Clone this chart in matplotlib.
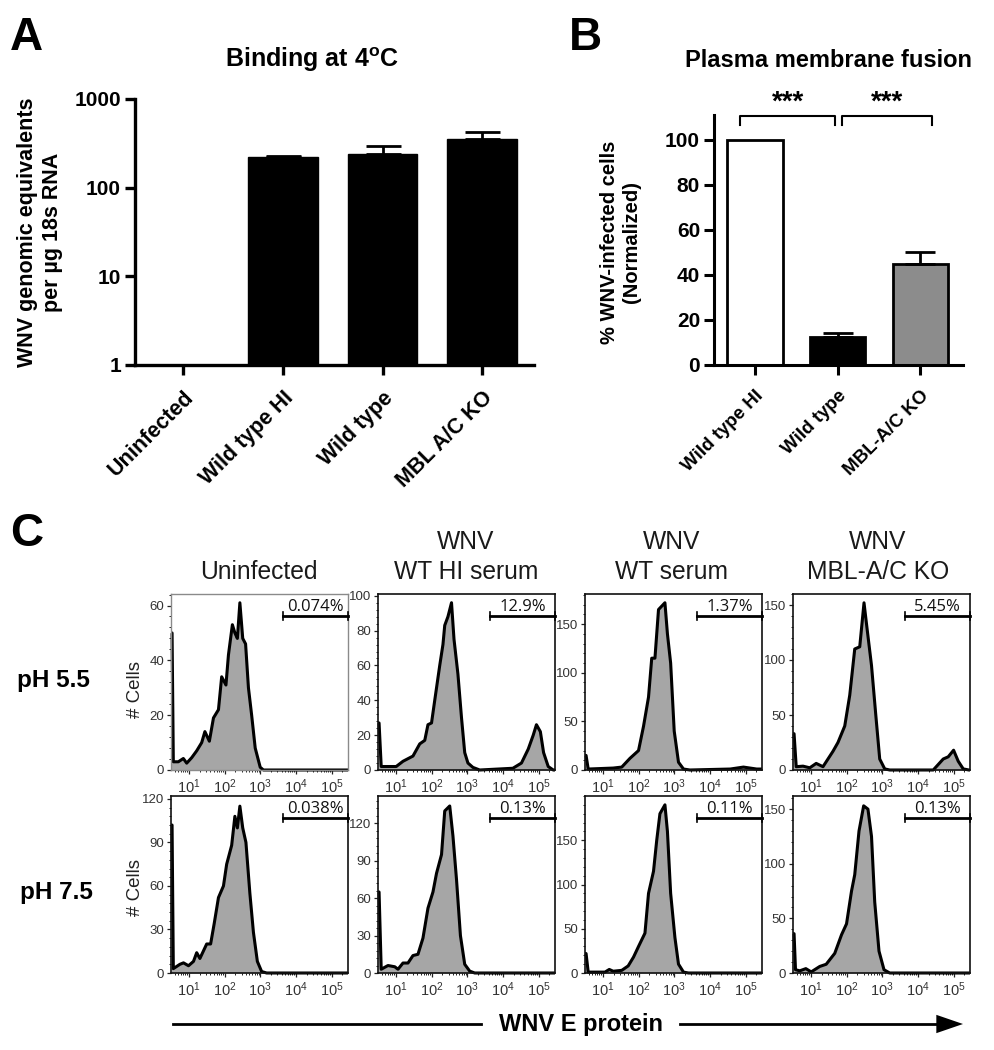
import numpy as np
import matplotlib
matplotlib.use("Agg")
import matplotlib.pyplot as plt
from matplotlib.ticker import NullFormatter, NullLocator, AutoMinorLocator, LogLocator
from matplotlib.lines import Line2D

plt.rcParams['font.family'] = ['Liberation Sans', 'DejaVu Sans']
plt.rcParams['mathtext.fontset'] = 'custom'
plt.rcParams['mathtext.rm'] = 'Liberation Sans'
plt.rcParams['mathtext.bf'] = 'Liberation Sans:bold'
plt.rcParams['mathtext.default'] = 'regular'

# ---- data ----
a_labels = ['Uninfected', 'Wild type HI', 'Wild type', 'MBL A/C KO']
a_values = [1, 220, 239, 353]
a_upper = [1, 225, 292, 421]
a_ticks = [1, 10, 100, 1000]

b_labels = ['Wild type HI', 'Wild type', 'MBL-A/C KO']
b_values = [100, 12.5, 45]
b_upper = [100, 14, 50]
b_colors = ['white', 'black', '#8c8c8c']
b_ticks = [0, 20, 40, 60, 80, 100]

col_titles = ['Uninfected', 'WNV\nWT HI serum', 'WNV\nWT serum', 'WNV\nMBL-A/C KO']
row_titles = ['pH 5.5', 'pH 7.5']
gate_labels = [['0.074%', '12.9%', '1.37%', '5.45%'], ['0.038%', '0.13%', '0.11%', '0.13%']]
y_limits = [[64.2, 101, 181, 160], [122, 142, 200, 162]]
y_tick_sets = [[[0, 20, 40, 60], [0, 20, 40, 60, 80, 100], [0, 50, 100, 150], [0, 50, 100, 150]],
               [[0, 30, 60, 90, 120], [0, 30, 60, 90, 120], [0, 50, 100, 150], [0, 50, 100, 150]]]
x_tick_exp = [1, 2, 3, 4, 5]

r1c1_log = [.5, .53, .565, .706, .846, .94, 1.08, 1.22, 1.36, 1.45, 1.575, 1.69, 1.83, 1.92, 2.04, 2.11, 2.22, 2.29, 2.36, 2.43, 2.51, 2.59, 2.67, 2.76, 2.86, 3.0, 3.09, 5.46]
r1c1_val = [50, 50, 3, 3, 4.2, 2.5, 4.5, 7, 10, 14, 10.5, 19, 22, 34, 31, 42, 53, 50, 48, 61, 48, 46, 30, 20, 8, 1, 0, 0]
r1c2_log = [.5, .53, .59, 1.01, 1.2, 1.48, 1.67, 1.81, 1.9, 2.0, 2.09, 2.23, 2.32, 2.37, 2.46, 2.56, 2.63, 2.74, 2.84, 2.93, 3.02, 3.16, 3.35, 4.28, 4.52, 4.71, 4.85, 4.94, 5.05, 5.14, 5.27, 5.41, 5.46]
r1c2_val = [27, 27, 2, 2, 5, 8, 15, 17, 26, 27, 40, 60, 72, 83, 88, 96, 75, 55, 30, 10, 4, 1.5, 0, 1, 4, 12, 20, 26, 22, 10, 2, 0, 0]
r1c3_log = [.5, .53, .59, 1.29, 1.53, 1.76, 2.0, 2.14, 2.28, 2.37, 2.46, 2.56, 2.74, 2.81, 2.9, 3.0, 3.12, 3.26, 3.44, 4.57, 4.94, 5.31, 5.46]
r1c3_val = [15, 15, 1, 2, 3, 12, 20, 45, 75, 115, 115, 165, 172, 140, 110, 40, 8, 1, 0, 1, 3, 1, 1]
r1c4_log = [.5, .53, .59, .78, .97, 1.15, 1.34, 1.48, 1.62, 1.76, 1.95, 2.09, 2.23, 2.37, 2.49, 2.57, 2.7, 2.82, 2.93, 3.07, 3.21, 4.43, 4.71, 4.85, 5.0, 5.13, 5.27, 5.43, 5.46]
r1c4_val = [33, 33, 3, 3.5, 2, 6, 3, 10, 17, 25, 40, 68, 110, 112, 152, 130, 95, 50, 10, 1, 0, 0, 10, 12, 18, 8, 1, 0, 0]
r2c1_log = [.5, .53, .565, .75, .85, .99, 1.13, 1.22, 1.31, 1.5, 1.61, 1.71, 1.83, 1.97, 2.06, 2.2, 2.29, 2.36, 2.43, 2.51, 2.6, 2.71, 2.81, 2.92, 3.04, 3.18, 5.46]
r2c1_val = [102, 102, 3, 6, 7, 5, 8, 14, 10, 20, 20, 34, 52, 60, 75, 88, 108, 100, 115, 100, 90, 55, 28, 8, 1, 0, 0]
r2c2_log = [.5, .53, .59, .78, .97, 1.06, 1.2, 1.34, 1.48, 1.62, 1.76, 1.9, 2.04, 2.14, 2.28, 2.37, 2.51, 2.6, 2.7, 2.81, 2.93, 3.07, 3.21, 5.46]
r2c2_val = [65, 65, 3, 6, 5, 3, 8, 8, 14, 15, 28, 52, 65, 80, 95, 130, 134, 110, 75, 30, 7, 1.5, 0, 0]
r2c3_log = [.5, .53, .59, 1.06, 1.18, 1.29, 1.53, 1.71, 1.86, 2.0, 2.18, 2.28, 2.42, 2.51, 2.6, 2.74, 2.81, 2.9, 3.02, 3.12, 3.26, 3.4, 5.46]
r2c3_val = [22, 22, 1, 1, 4, 2, 3, 8, 18, 30, 45, 90, 115, 150, 180, 190, 160, 90, 40, 10, 1, 0, 0]
r2c4_log = [.5, .53, .57, .69, .86, 1.01, 1.25, 1.43, 1.67, 1.86, 2.0, 2.14, 2.23, 2.35, 2.48, 2.6, 2.7, 2.79, 2.91, 3.05, 3.21, 5.46]
r2c4_val = [36, 36, 3, 2, 4, 1, 6, 8, 18, 35, 45, 75, 90, 130, 153, 150, 125, 65, 20, 3, 0, 0]

hist_log = [[r1c1_log, r1c2_log, r1c3_log, r1c4_log], [r2c1_log, r2c2_log, r2c3_log, r2c4_log]]
hist_val = [[r1c1_val, r1c2_val, r1c3_val, r1c4_val], [r2c1_val, r2c2_val, r2c3_val, r2c4_val]]

# ---- figure helpers (pixel layout) ----
W, H = 995, 1050
fig = plt.figure(figsize=(W / 100, H / 100), dpi=100, facecolor='white')


def make_axes(x0, x1, ytop, ybot):
    return fig.add_axes([x0 / W, 1 - ybot / H, (x1 - x0) / W, (ybot - ytop) / H])


def ftext(x, y, s, **kw):
    return fig.text(x / W, 1 - y / H, s, **kw)


# ---- panel letters ----
for letter, lx, ly in [('A', 10, 50), ('B', 569, 50), ('C', 10, 546)]:
    ftext(lx, ly, letter, fontsize=33, fontweight='bold', ha='left', va='baseline')

# ---- panel A ----
ax = make_axes(135, 534, 99, 365)
xa = np.arange(len(a_labels))
ax.bar(xa, np.array(a_values) - 1, bottom=1, width=0.7, color='black', edgecolor='black')
for xi, v, u in zip(xa, a_values, a_upper):
    if u > v:
        ax.errorbar(xi, v, yerr=[[0], [u - v]], color='black', capsize=12.6, elinewidth=2, capthick=2)
ax.set_yscale('log')
ax.set_ylim(1, 1000)
ax.set_xlim(-0.485, 3.52)
ax.set_yticks(a_ticks, ['1', '10', '100', '1000'], fontsize=15, fontweight='bold')
ax.yaxis.set_minor_locator(NullLocator())
ax.set_xticks(xa)
ax.set_xticklabels(a_labels, rotation=45, ha='right', va='top', rotation_mode='anchor', fontsize=15.5, fontweight='bold')
for side in ('top', 'right'):
    ax.spines[side].set_visible(False)
for side in ('left', 'bottom'):
    ax.spines[side].set_linewidth(2.4)
ax.tick_params(axis='both', width=2.4, length=7, pad=3)
ax.tick_params(axis='x', pad=9)
ftext(312, 67, r'Binding at 4$^{\mathbf{o}}$C', fontsize=18, fontweight='bold', ha='center', va='baseline')
ftext(40, 232, 'WNV genomic equivalents\nper µg 18s RNA', fontsize=15.5, fontweight='bold', rotation=90,
      ha='center', va='center', multialignment='center', linespacing=1.25)

# ---- panel B ----
ax = make_axes(714, 963, 115, 365)
xb = np.arange(len(b_labels))
ax.bar(xb, b_values, width=0.67, color=b_colors, edgecolor='black', linewidth=2)
for xi, v, u in zip(xb, b_values, b_upper):
    if u > v:
        ax.errorbar(xi, v, yerr=[[0], [u - v]], color='black', capsize=10.5, elinewidth=2, capthick=2)
ax.set_ylim(0, 110.9)
ax.set_xlim(-0.496, 2.515)
ax.set_yticks(b_ticks, [str(t) for t in b_ticks], fontsize=15, fontweight='bold')
ax.set_xticks(xb)
ax.set_xticklabels(b_labels, rotation=45, ha='right', va='top', rotation_mode='anchor', fontsize=13.5, fontweight='bold')
for side in ('top', 'right'):
    ax.spines[side].set_visible(False)
for side in ('left', 'bottom'):
    ax.spines[side].set_linewidth(2.2)
ax.tick_params(axis='both', width=2.2, length=7, pad=3)
ax.tick_params(axis='x', pad=9)
for x0, x1 in [(-0.178, 0.97), (1.055, 2.14)]:
    ax.plot([x0, x0, x1, x1], [106.4, 110.6, 110.6, 106.4], color='black', lw=1.5, clip_on=False)
    ax.text((x0 + x1) / 2, 116.5, '***', fontsize=20, fontweight='bold', ha='center', va='center', clip_on=False)
ftext(829, 67, 'Plasma membrane fusion', fontsize=17, fontweight='bold', ha='center', va='baseline')
ftext(621, 242, '% WNV-infected cells\n(Normalized)', fontsize=14.5, fontweight='bold', rotation=90,
      ha='center', va='center', multialignment='center', linespacing=1.2)

# ---- panel C ----
col_x = [(171, 348), (378, 555), (585, 762), (793, 970)]
row_y = [(594, 770), (796, 973)]
col_centers = [259, 466, 672, 878]

for c, ttl in enumerate(col_titles):
    ftext(col_centers[c], 579, ttl, fontsize=17.7, ha='center', va='baseline', multialignment='center',
          linespacing=1.3, color='#1a1a1a')

for r, (yt, yb) in enumerate(row_y):
    for c, (x0, x1) in enumerate(col_x):
        ax = make_axes(x0, x1, yt, yb)
        xs = 10.0 ** np.array(hist_log[r][c])
        ys = np.array(hist_val[r][c])
        ax.fill_between(xs, 0, ys, color='#a6a6a6', lw=0, zorder=1)
        ax.plot(xs, ys, color='black', lw=2.2, zorder=2, clip_on=False, solid_capstyle='butt')
        ax.set_xscale('log')
        ax.set_xlim(10 ** 0.5, 10 ** 5.46)
        ax.set_ylim(0, y_limits[r][c])
        ax.set_xticks([10.0 ** e for e in x_tick_exp], [f'$10^{{{e}}}$' for e in x_tick_exp], fontsize=10.5, color='#333333')
        ax.xaxis.set_minor_locator(LogLocator(base=10, subs=np.arange(2, 10), numticks=12))
        ax.xaxis.set_minor_formatter(NullFormatter())
        ax.set_yticks(y_tick_sets[r][c], [str(t) for t in y_tick_sets[r][c]], fontsize=9.5, color='#333333')
        ax.yaxis.set_minor_locator(AutoMinorLocator(5))
        ax.tick_params(axis='both', which='major', length=3, width=0.9, pad=2, color='#222222')
        ax.tick_params(axis='both', which='minor', length=1.5, width=0.7, color='#222222')
        edge = '#8a8a8a' if (r == 0 and c == 0) else '#111111'
        for side, sp in ax.spines.items():
            sp.set_linewidth(1.0 if edge != '#111111' else 1.2)
            sp.set_color(edge)
        tr = ax.get_xaxis_transform()
        gate_y = 0.875
        ax.plot([10 ** 3.64, 10 ** 5.46], [gate_y, gate_y], transform=tr, color='black', lw=2.0, clip_on=False, zorder=3)
        for gx in (10 ** 3.64, 10 ** 5.46):
            ax.plot([gx, gx], [gate_y - 0.022, gate_y + 0.022], transform=tr, color='black', lw=1.2, clip_on=False, zorder=3)
        ax.text(10 ** 4.55, gate_y + 0.008, gate_labels[r][c], transform=tr, fontsize=12, ha='center', va='bottom',
                family='Open Sans', color='#111111')

ftext(135, 690, '# Cells', fontsize=13.5, rotation=90, ha='center', va='center', color='#222222')
ftext(135, 887, '# Cells', fontsize=13.5, rotation=90, ha='center', va='center', color='#222222')
ftext(53, 680, row_titles[0], fontsize=17.5, fontweight='bold', ha='center', va='center')
ftext(56, 893, row_titles[1], fontsize=17.5, fontweight='bold', ha='center', va='center')

# ---- bottom arrow ----
fig.add_artist(Line2D([173 / W, 481 / W], [1 - 1024 / H] * 2, color='black', lw=2))
fig.add_artist(Line2D([680 / W, 945 / W], [1 - 1024 / H] * 2, color='black', lw=2))
ax_arrow = fig.add_axes([0, 0, 1, 1], facecolor='none')
ax_arrow.set_axis_off()
ax_arrow.set_xlim(0, W)
ax_arrow.set_ylim(H, 0)
ax_arrow.annotate('', xy=(963, 1024), xytext=(938, 1024),
                  arrowprops=dict(arrowstyle='-|>,head_length=1.6,head_width=0.55', color='black', lw=0, shrinkA=0, shrinkB=0, mutation_scale=12))
ftext(581, 1031, 'WNV E protein', fontsize=17, fontweight='bold', ha='center', va='baseline')

fig.savefig('out.png', dpi=100)
